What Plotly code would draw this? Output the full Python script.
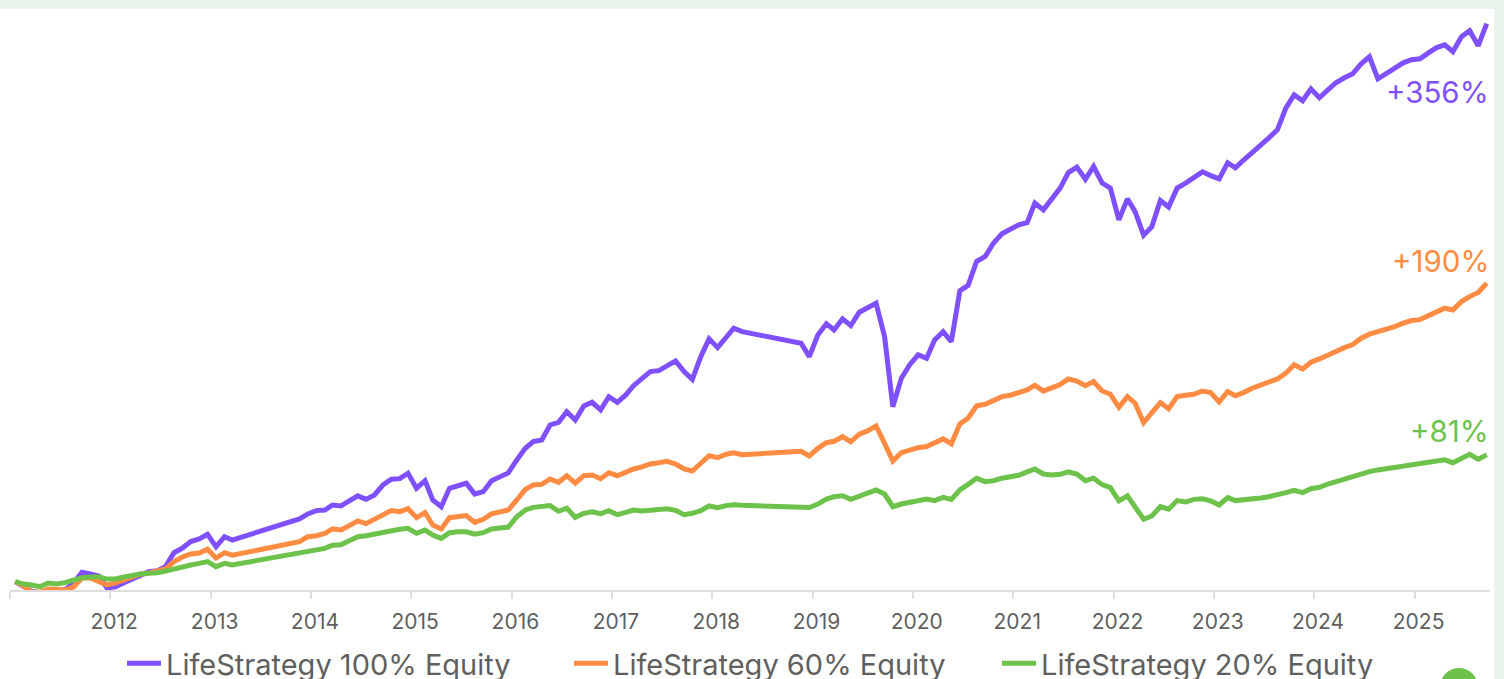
import pandas as pd
import plotly.graph_objects as go

N = None
equity_100 = [
0.3,-2.6,-5.8,-7.0,-5.1,-5.1,-5.1,-0.6,6.2,5.1,3.8,-3.8,
-3.0,-0.4,1.9,4.5,6.6,7.2,9.8,18.7,21.7,25.8,27.5,30.5,
22.6,28.9,26.8,N,N,N,N,N,N,N,40.3,43.5,
45.6,46.0,49.2,48.6,51.8,55.0,52.8,55.6,62.0,65.6,66.0,69.5,
59.9,64.7,52.4,48.1,59.9,61.3,63.1,56.2,57.7,64.7,66.9,69.7,
78.0,85.4,89.7,90.7,100.3,102.0,108.8,103.5,112.5,114.8,109.9,118.4,
114.8,119.5,125.4,130.2,134.4,135.0,138.0,141.2,134.4,129.5,144.0,155.3,
149.7,155.7,162.1,159.9,N,N,N,N,N,N,152.5,144.0,
157.8,164.9,161.0,168.1,163.8,172.3,174.9,178.1,156.7,112.0,130.2,138.7,
145.1,142.9,154.6,159.9,153.6,186.0,189.5,204.7,207.9,216.4,222.4,224.9,
228.1,229.6,242.0,237.7,244.1,251.6,261.5,265.0,257.3,265.4,254.8,251.6,
231.3,244.7,236.6,221.5,227.0,243.7,239.5,251.6,254.8,258.0,262.0,259.6,
257.5,267.7,264.5,269.7,274.1,279.2,283.7,288.8,302.9,311.2,307.4,315.0,
309.3,314.4,318.9,322.1,324.6,331.0,335.5,321.4,324.6,327.8,331.6,333.6,
334.2,338.0,341.2,343.1,338.7,348.3,352.1,342.5,356.6]
equity_60 = [
0.3,-2.6,-6.4,-6.4,-4.5,-5.1,-5.1,-3.2,2.6,2.6,0.6,-1.9,
-0.6,1.3,3.8,5.1,5.8,7.0,8.3,13.0,16.0,17.9,18.5,20.9,
15.3,18.7,17.1,N,N,N,N,N,N,N,25.8,28.9,
29.6,31.1,33.9,33.2,36.0,39.0,37.3,40.1,43.3,45.6,44.9,46.8,
41.1,44.3,36.4,33.9,41.1,41.5,42.4,38.1,40.1,43.5,44.7,46.0,
52.4,59.2,62.0,62.4,65.8,63.7,67.9,63.1,67.9,68.4,66.0,69.8,
67.9,70.5,72.2,73.5,75.4,76.2,77.1,75.4,72.2,70.9,75.8,80.7,
79.4,81.6,82.6,81.3,N,N,N,N,N,N,83.5,80.5,
85.4,89.0,89.9,92.8,89.7,94.4,96.5,99.7,88.6,77.3,82.6,84.3,
85.8,86.5,88.6,91.4,88.2,101.0,104.6,112.5,113.5,115.7,118.4,119.3,
120.6,122.7,125.7,121.9,124.0,126.1,129.7,128.4,125.4,128.0,122.0,119.9,
111.6,118.4,114.2,101.8,108.2,114.6,110.7,118.4,119.3,119.9,122.0,121.0,
115.0,121.6,119.0,121.0,123.8,125.9,128.0,129.7,133.4,138.7,136.1,140.4,
142.5,145.1,147.2,149.7,151.7,155.7,158.3,159.8,161.0,163.1,165.3,167.0,
167.6,170.0,172.7,174.9,173.8,179.1,182.3,184.9,190.9]
equity_20 = [
0.3,-1.3,-1.9,-3.0,-0.6,-1.3,-0.4,1.3,2.7,3.2,3.4,1.9,
1.9,3.2,4.5,5.1,5.6,5.9,7.0,8.5,9.8,10.9,11.9,13.0,
9.8,11.9,10.9,N,N,N,N,N,N,N,18.3,19.8,
20.9,21.5,23.5,23.8,26.4,28.9,29.6,30.7,32.1,33.0,33.7,34.3,
31.1,33.2,30.0,27.9,31.5,32.1,32.1,30.5,31.5,33.9,34.5,35.1,
41.7,46.0,47.7,48.1,48.8,45.2,47.1,41.3,43.9,44.9,43.6,45.6,
43.0,44.5,46.0,45.4,45.8,46.5,46.8,45.8,43.0,43.9,45.6,48.6,
47.5,48.8,49.4,49.0,N,N,N,N,N,N,48.1,47.6,
49.8,53.0,54.5,55.1,52.8,55.1,56.7,58.8,56.2,48.1,49.8,50.7,
51.3,53.0,52.0,54.1,52.8,58.8,62.4,66.3,64.1,64.7,66.3,67.3,
68.2,70.3,72.2,69.0,68.4,68.8,70.3,69.0,64.7,66.3,62.2,60.3,
51.8,55.0,47.5,40.1,42.2,48.1,46.5,52.0,51.1,52.8,53.2,51.8,
49.2,53.9,52.0,52.4,53.0,53.7,54.5,55.4,57.1,58.6,57.1,59.6,
60.5,62.6,64.1,65.6,67.3,69.5,70.5,71.6,72.4,73.5,74.3,75.2,
75.4,76.2,77.1,78.0,76.2,79.0,81.6,78.4,81.2]

dates = pd.date_range("2011-01-20", periods=len(equity_100), freq=pd.DateOffset(months=1))
years = list(range(2012, 2026))
names = ["LifeStrategy 100% Equity", "LifeStrategy 60% Equity", "LifeStrategy 20% Equity"]
colors = ["#7f50ff", "#ff8c42", "#6cc24a"]
labels = ["+356%", "+190%", "+81%"]
label_y = [313, 205, 96.5]
series = [equity_100, equity_60, equity_20]
assert all(len(s) == 177 for s in series)

FONT = "Inter"
W, H = 1504, 720
L, R, T, B = 10, 14, 9, 130
PW, PH = W - L - R, H - T - B

def px(x): return (x - L) / PW
def py(y): return 1 - (y - T) / PH

fig = go.Figure()
legend_keys = ["legend", "legend2", "legend3"]
legend_left = [122, 569, 997]
for name, vals, col, key in zip(names, series, colors, legend_keys):
    fig.add_trace(go.Scatter(x=dates, y=vals, name=name, mode="lines", connectgaps=True,
                             legend=key, line=dict(color=col, width=5)))
for txt, y, col in zip(labels, label_y, colors):
    fig.add_annotation(x=dates[-1], y=y, text=txt, showarrow=False, xanchor="right",
                       yanchor="middle", xshift=4, font=dict(family=FONT, size=29.5, color=col))

fig.add_shape(type="rect", xref="paper", yref="paper", layer="below", line_width=0, fillcolor="white",
              x0=px(0), x1=px(1494), y0=py(H), y1=py(9))
fig.add_shape(type="circle", xref="paper", yref="paper", layer="below", line_width=0, fillcolor="#6cc24a",
              x0=px(1440), x1=px(1478), y0=py(706), y1=py(668))

legend_style = dict(orientation="h", xanchor="left", y=py(638), yanchor="top",
                    font=dict(family=FONT, size=29, color="#5f5f5f"), itemwidth=34,
                    bgcolor="rgba(0,0,0,0)")
fig.update_layout(
    width=W, height=H, margin=dict(l=L, r=R, t=T, b=B),
    paper_bgcolor="#eaf4ec", plot_bgcolor="white", showlegend=True,
    font=dict(family=FONT, color="#5f5f5f"),
    legend=dict(x=px(legend_left[0]), **legend_style),
    legend2=dict(x=px(legend_left[1]), **legend_style),
    legend3=dict(x=px(legend_left[2]), **legend_style),
    xaxis=dict(type="date", range=["2011-01-01", "2025-10-02"], showgrid=False, zeroline=False,
               showline=True, linecolor="#dedede", linewidth=2,
               tickmode="array", tickvals=[f"{y}-01-15" for y in years], ticktext=[str(y) for y in years],
               ticks="", ticklabelstandoff=12, tickfont=dict(family=FONT, size=21, color="#5f5f5f"),
               minor=dict(ticks="outside", ticklen=7, tickcolor="#dedede", tickwidth=2,
                          tick0="2011-01-01", dtick="M12", showgrid=False)),
    yaxis=dict(range=[-5.1, 366], visible=False),
)
fig.write_html("out.html", config={"displayModeBar": False},
               post_script="document.body.style.margin='0';document.documentElement.style.overflow='hidden';document.body.style.overflow='hidden';")
